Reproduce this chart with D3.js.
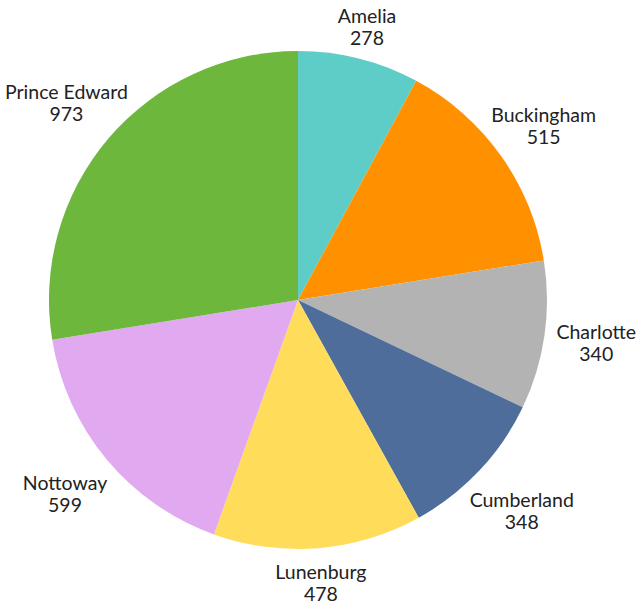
<!DOCTYPE html>
<html>
<head>
<meta charset="utf-8">
<script src="https://cdn.jsdelivr.net/npm/d3@7"></script>
<style>
  body { margin: 0; background: #fff; }
  text { font-family: Lato, "Open Sans", sans-serif; fill: #222; }
</style>
</head>
<body>
<svg width="636" height="603"></svg>
<script>
// data
var counties = ['Amelia', 'Buckingham', 'Charlotte', 'Cumberland', 'Lunenburg', 'Nottoway', 'Prince Edward'];
var counts = [278, 515, 340, 348, 478, 599, 973];
var colors = ['#5ecdc8', '#ff9100', '#b3b3b3', '#4f6d9a', '#ffdc59', '#e1a9f0', '#6db73d'];

var svg = d3.select('svg');

var cx = 298, cy = 300;
var radius = 249;
var labelGap = 10;
// labels on the lower half sit a little further out
var lowerPush = 20;

var data = counties.map(function (c, i) {
    return { name: c, value: counts[i], color: colors[i] };
});

var pie = d3.pie()
    .sort(null)
    .value(function (d) { return d.value; });

var arc = d3.arc()
    .innerRadius(0)
    .outerRadius(radius);

var chartG = svg.append('g')
    .attr('transform', 'translate(' + [cx, cy] + ')');

var arcs = pie(data);

chartG.selectAll('.slice')
    .data(arcs)
    .enter()
    .append('path')
    .attr('class', 'slice')
    .attr('d', arc)
    .style('fill', function (d) { return d.data.color; });

// labels: two lines, pushed out along the mid angle so the box clears the pie
var labels = chartG.selectAll('.label')
    .data(arcs)
    .enter()
    .append('text')
    .attr('class', 'label')
    .attr('text-anchor', 'middle')
    .style('font-size', '19.5px');

labels.append('tspan')
    .attr('x', 0)
    .attr('dy', 0)
    .text(function (d) { return d.data.name; });

labels.append('tspan')
    .attr('x', 0)
    .attr('dy', '22px')
    .text(function (d) { return d.data.value; });

labels.each(function (d) {
    var box = this.getBBox();
    var hw = box.width / 2, hh = box.height / 2;
    var midY = box.y + hh;
    var a = (d.startAngle + d.endAngle) / 2;
    var s = Math.sin(a), c = Math.cos(a);
    var dist = radius + labelGap + hw * s * s + hh * c * c
        + lowerPush * Math.max(0, -c) * Math.abs(s);
    d3.select(this)
        .attr('transform', 'translate(' + [dist * s, -dist * c - midY] + ')');
});
</script>
</body>
</html>
